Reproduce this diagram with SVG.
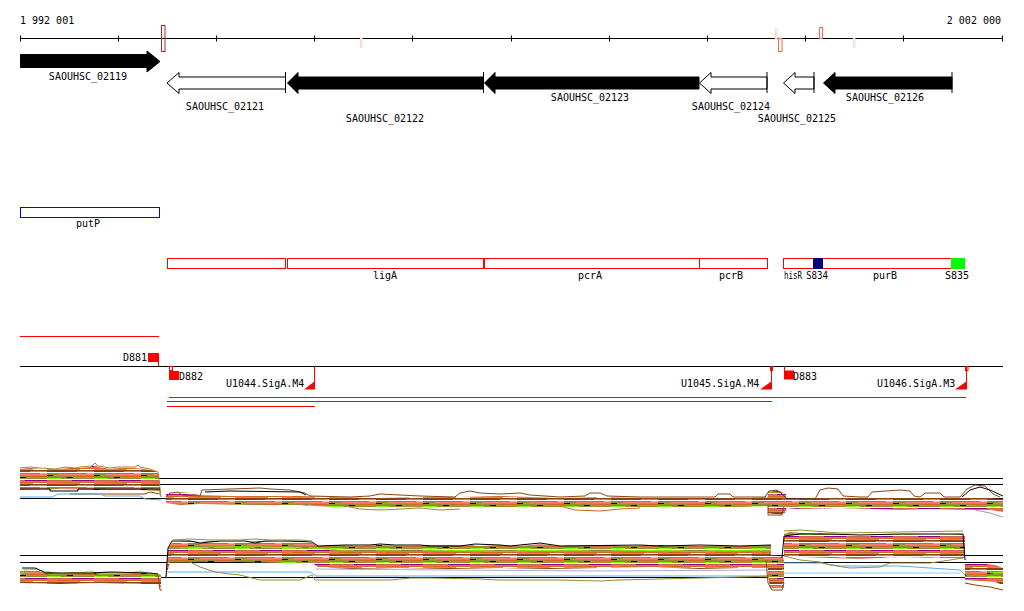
<svg xmlns="http://www.w3.org/2000/svg" width="1024" height="611" viewBox="0 0 1024 611">
<style>
.t{font-family:"DejaVu Sans Mono","Liberation Mono",monospace;font-size:10px;fill:#000}
.m{text-anchor:middle}
.e{text-anchor:end}
.ax{stroke:#000;stroke-width:1;fill:none}
.rb{fill:none;stroke:#f00;stroke-width:1}
.rf{fill:#f00}
.gb{fill:#000;stroke:#000;stroke-width:1}
.gw{fill:#fff;stroke:#000;stroke-width:1}
.ln{fill:none;stroke-width:1}
.band{fill:url(#ex)}
</style>
<defs>
<pattern id="ex" patternUnits="userSpaceOnUse" width="47" height="14">
<rect x="0" y="0" width="30" height="1" fill="#9a8b35"/><rect x="30" y="0" width="17" height="1" fill="#d2691e"/>
<rect x="0" y="1" width="20" height="1" fill="#d2691e"/><rect x="20" y="1" width="6" height="1" fill="#000"/><rect x="26" y="1" width="21" height="1" fill="#cd853f"/>
<rect x="0" y="2" width="14" height="1" fill="#7cfc00"/><rect x="14" y="2" width="33" height="1" fill="#9a8b35"/>
<rect x="0" y="3" width="47" height="1" fill="#fff"/>
<rect x="0" y="4" width="25" height="1" fill="#cd5c5c"/><rect x="25" y="4" width="22" height="1" fill="#8b008b"/>
<rect x="0" y="5" width="47" height="1" fill="#cd853f"/>
<rect x="0" y="6" width="10" height="1" fill="#ff6347"/><rect x="10" y="6" width="37" height="1" fill="#d2691e"/>
<rect x="0" y="7" width="33" height="1" fill="#bc8f8f"/><rect x="33" y="7" width="14" height="1" fill="#fff"/>
<rect x="0" y="8" width="47" height="1" fill="#8b4513"/>
<rect x="0" y="9" width="18" height="1" fill="#a0148c"/><rect x="18" y="9" width="12" height="1" fill="#dc143c"/><rect x="30" y="9" width="17" height="1" fill="#cd853f"/>
<rect x="0" y="10" width="47" height="1" fill="#fff"/>
<rect x="0" y="11" width="40" height="1" fill="#d2691e"/><rect x="40" y="11" width="7" height="1" fill="#87cefa"/>
<rect x="0" y="12" width="12" height="1" fill="#9a8b35"/><rect x="12" y="12" width="35" height="1" fill="#fa8072"/>
<rect x="0" y="13" width="6" height="1" fill="#000080"/><rect x="6" y="13" width="41" height="1" fill="#cd853f"/>
</pattern>
</defs>
<rect width="1024" height="611" fill="#fff"/>

<g id="axis">
<text class="t" x="20" y="24">1 992 001</text>
<text class="t e" x="1001" y="24">2 002 000</text>
<line class="ax" x1="20" y1="38.5" x2="1003" y2="38.5"/>
<path class="ax" d="M20.5 35.5V41.5M118.5 35.5V41.5M216.5 35.5V41.5M314.5 35.5V41.5M412.5 35.5V41.5M511.5 35.5V41.5M609.5 35.5V41.5M707.5 35.5V41.5M805.5 35.5V41.5M903.5 35.5V41.5M1002.5 35.5V41.5"/>
<rect x="161.5" y="25.5" width="3.5" height="26" fill="none" stroke="#a52a2a"/>
<rect x="360.5" y="38.5" width="1.5" height="9" fill="none" stroke="#fcd8c8"/>
<rect x="775.5" y="28.5" width="1.5" height="10" fill="none" stroke="#fcd8c8"/>
<rect x="778.5" y="38.5" width="3.5" height="13" fill="none" stroke="#f4694c"/>
<rect x="819.5" y="27.5" width="3" height="11" fill="none" stroke="#f4694c"/>
<rect x="853.5" y="38.5" width="1.5" height="9" fill="none" stroke="#fcd8c8"/>
</g>

<g id="gene-02119"><polygon class="gb" points="20.5,54.5 147,54.5 147,51 160,61.5 147,72 147,67.5 20.5,67.5"/><text class="t m" x="88" y="80">SAOUHSC_02119</text></g>
<g id="gene-02121"><polygon class="gw" points="167,83 179,72.5 179,77 285.5,77 285.5,89 179,89 179,93.5"/><line class="ax" x1="285.5" y1="72" x2="285.5" y2="93"/><text class="t m" x="225" y="110">SAOUHSC_02121</text></g>
<g id="gene-02122"><polygon class="gb" points="287.5,83 298,72.5 298,77 483,77 483,89 298,89 298,93.5"/><line class="ax" x1="483.5" y1="72" x2="483.5" y2="93"/><text class="t m" x="385" y="122">SAOUHSC_02122</text></g>
<g id="gene-02123"><polygon class="gb" points="484.5,83 495,72.5 495,77 699,77 699,89 495,89 495,93.5"/><text class="t m" x="590" y="101">SAOUHSC_02123</text></g>
<g id="gene-02124"><polygon class="gw" points="699.5,83 711,72.5 711,77 767,77 767,89 711,89 711,93.5"/><line class="ax" x1="767" y1="72" x2="767" y2="93"/><text class="t m" x="731" y="110">SAOUHSC_02124</text></g>
<g id="gene-02125"><polygon class="gw" points="783.5,83 795,72.5 795,77 814,77 814,89 795,89 795,93.5"/><line class="ax" x1="814" y1="72" x2="814" y2="93"/><text class="t m" x="797" y="122">SAOUHSC_02125</text></g>
<g id="gene-02126"><polygon class="gb" points="823.5,83 835,72.5 835,77 952,77 952,89 835,89 835,93.5"/><line class="ax" x1="952" y1="72" x2="952" y2="93"/><text class="t m" x="885" y="101">SAOUHSC_02126</text></g>

<g id="putP"><rect x="20.5" y="207.5" width="139" height="10" fill="none" stroke="#00f"/><text class="t m" x="88" y="227">putP</text></g>

<g id="operons">
<rect class="rb" x="167.5" y="258.5" width="118" height="10"/>
<rect class="rb" x="287.5" y="258.5" width="196" height="10"/>
<rect class="rb" x="484.5" y="258.5" width="215" height="10"/>
<rect class="rb" x="699.5" y="258.5" width="68" height="10"/>
<rect class="rb" x="783.5" y="258.5" width="168" height="10"/>
<rect x="813" y="258" width="10" height="11" fill="#000080"/>
<rect x="951" y="258" width="14" height="11" fill="#00ff00"/>
<text class="t m" x="385" y="279">ligA</text>
<text class="t m" x="590" y="279">pcrA</text>
<text class="t m" x="731" y="279">pcrB</text>
<text class="t" x="784" y="279" textLength="18" lengthAdjust="spacingAndGlyphs">hisR</text>
<text class="t" x="806" y="279" textLength="22" lengthAdjust="spacingAndGlyphs">S834</text>
<text class="t m" x="885" y="279">purB</text>
<text class="t m" x="957" y="279">S835</text>
</g>

<g id="sites">
<line x1="20" y1="336.5" x2="159" y2="336.5" stroke="#f00"/>
<text class="t" x="123" y="361">D881</text>
<rect class="rf" x="148" y="353" width="11" height="9"/>
<line x1="158.5" y1="353" x2="158.5" y2="366" stroke="#f00"/>
<line class="ax" x1="20" y1="366.5" x2="1003" y2="366.5"/>
<rect class="rb" x="169.5" y="366.5" width="3" height="4"/>
<rect class="rf" x="169" y="371" width="10" height="9"/>
<text class="t" x="179" y="380">D882</text>
<text class="t" x="226" y="387">U1044.SigA.M4</text>
<line x1="314.5" y1="366" x2="314.5" y2="389" stroke="#f00"/>
<polygon class="rf" points="304,389.5 315,389.5 315,381"/>
<text class="t" x="681" y="387">U1045.SigA.M4</text>
<rect class="rf" x="770" y="366" width="3" height="5"/>
<line x1="771.5" y1="366" x2="771.5" y2="389" stroke="#f00"/>
<polygon class="rf" points="760,389.5 772,389.5 772,381"/>
<line x1="784.5" y1="366" x2="784.5" y2="379" stroke="#f00"/>
<rect class="rf" x="784" y="370.5" width="10" height="9"/>
<text class="t" x="793" y="380">D883</text>
<text class="t" x="877" y="387">U1046.SigA.M3</text>
<rect class="rb" x="965.5" y="366.5" width="2.5" height="4"/>
<line x1="966.5" y1="366" x2="966.5" y2="389" stroke="#f00"/>
<polygon class="rf" points="955,389.5 967,389.5 967,381"/>
<line x1="169" y1="397.5" x2="966" y2="397.5" stroke="#f00"/>
<line x1="167" y1="401.5" x2="772" y2="401.5" stroke="#f00"/>
<line x1="167" y1="406.5" x2="315" y2="406.5" stroke="#f00"/>
</g>

<g id="plot-upper">
<path class="ax" d="M20 478.5H1003M20 484.5H1003M20 498.5H1003"/>
<polygon class="band" points="20,469 30,468 40,469 60,469 70,468 80,468 90,467 95,465 98,467 110,469 120,468 135,468 145,469 155,471 159,474 161,497 159,491 140,490 100,490 60,489 20,490"/>
<polyline class="ln" stroke="#9a8b35" points="20,468 30,467 40,468 55,469 65,467 75,468 80,467 92,466 95,463 98,466 110,468 118,467 135,467 138,465 140,467 150,469 158,472 161,497"/>
<polyline class="ln" stroke="#000" points="20,489 50,489 50,491 78,491 78,489 120,489 160,489"/>
<polyline class="ln" stroke="#8b4513" points="70,494 145,494 150,492 160,494"/>
<polyline class="ln" stroke="#5dade2" points="20,497 52,497 58,494 100,494 105,496 140,496 145,499 161,500"/>
<polygon class="band" points="166,493 172,494 180,492 190,493 200,495 230,496 300,496 330,497 380,498 420,497 460,497 500,496 560,498 600,497 650,498 700,498 740,498 771,497 771,506 740,507 700,508 650,507 600,508 560,507 500,508 450,507 400,507 350,508 300,505 250,505 200,504 180,505 166,503"/>
<polyline class="ln" stroke="#8b4513" points="166,497 170,493 178,492 182,495 200,496 202,490 230,489 260,488 270,489 290,490 305,493 310,496 350,497 370,496 380,494 400,495 420,496 455,497 460,493 470,491 480,493 500,494 520,493 530,495 560,497 585,496 590,493 600,493 607,496 640,497 700,497 715,497 718,494 730,494 733,497 765,497"/>
<polyline class="ln" stroke="#000" points="205,492 230,491 300,492 306,495"/>
<polyline class="ln" stroke="#9a8b35" points="340,505 360,509 380,510 400,509 420,508 440,510 460,509"/>
<polyline class="ln" stroke="#d2691e" points="560,506 575,510 600,511 620,509 640,508"/>
<polygon class="band" points="768,492 780,491 786,494 786,512 780,515 768,513"/>
<polyline class="ln" stroke="#5a3a2a" points="765,497 769,491 777,490 781,493 786,498"/>
<polyline class="ln" stroke="#8b4513" points="768,505 768,515 782,515 784,507"/>
<polygon class="band" points="784,499 820,498 843,498 870,498 913,498 930,498 963,498 990,498 1003,499 1003,512 990,510 960,510 930,509 900,510 870,509 840,508 800,509 784,508"/>
<polyline class="ln" stroke="#8b4513" points="784,499 815,499 820,490 828,488 838,489 843,496 860,497 868,497 872,492 900,490 910,491 914,496 920,497 925,493 940,493 944,497 960,497 967,489 975,485 985,486 993,494 1000,497"/>
<polyline class="ln" stroke="#000" points="962,497 970,490 980,487 990,490 1003,496"/>
<polyline class="ln" stroke="#bc8f8f" points="975,510 990,513 1003,517"/>
</g>

<g id="plot-lower">
<path class="ax" d="M20 555.5H1003M20 562.5H1003M20 577.5H1003"/>
<polygon class="band" points="20,570 35,569 45,571 60,573 75,572 90,573 110,572 130,573 150,573 158,574 161,575 161,588 158,585 140,584 100,583 60,584 20,583"/>
<polyline class="ln" stroke="#7cfc00" points="20,575 25,570 35,569 42,571 50,574 80,573 90,571 100,574 130,573 140,571 150,574 158,574"/>
<polyline class="ln" stroke="#000" points="22,568 35,568 42,571 45,573 90,573 110,572 150,573 158,574"/>
<polyline class="ln" stroke="#8b4513" points="158,575 160,590 162,590"/>
<polygon class="band" points="166,577 168,548 172,543 185,541 200,542 215,541 230,543 245,542 260,541 280,542 300,541 312,543 318,546 340,545 360,546 380,545 410,546 430,545 460,545 480,546 500,545 520,546 540,544 560,546 600,545 630,546 650,545 700,546 740,546 771,545 771,568 740,568 700,569 650,567 600,568 550,569 500,568 450,569 400,568 350,569 318,567 312,563 280,563 240,562 200,562 170,562"/>
<polyline class="ln" stroke="#000" points="166,577 168,548 172,541 190,541 200,543 220,541 245,541 255,543 265,541 290,541 312,542 318,546 345,545 370,545 380,544 395,545 420,545 430,546 460,546 475,544 500,545 510,546 540,543 560,546 640,545 660,546 700,545 740,546 771,545"/>
<polyline class="ln" stroke="#9a8b35" points="172,540 190,539 210,540 240,540 255,539 270,540 300,540 312,541"/>
<polyline class="ln" stroke="#7cfc00" points="180,548 220,547 260,547 310,548 340,550 420,550 500,551 600,550 700,551 771,550"/>
<polyline class="ln" stroke="#5dade2" points="168,572 310,572 316,576 771,576"/>
<polyline class="ln" stroke="#a9a9e0" points="316,569 450,570 600,571 771,570"/>
<polyline class="ln" stroke="#9a8b35" points="168,562 190,562 200,567 215,572 230,574 240,575 260,580 300,580 312,575 315,580 390,580 410,578 430,578 480,579 500,580 520,580 560,580 600,581 620,580 660,579 700,578 740,577 771,576"/>
<polygon class="band" points="768,555 782,556 784,560 784,588 770,588 768,575"/>
<polyline class="ln" stroke="#8b4513" points="766,560 768,583 772,590 782,590 784,583"/>
<polygon class="band" points="784,534 790,532 800,533 830,534 860,535 900,534 930,535 963,534 965,536 965,558 940,558 900,557 860,559 830,558 800,557 784,556"/>
<polyline class="ln" stroke="#000" points="782,558 784,536 800,534 830,534 860,535 900,534 963,534 965,560"/>
<polyline class="ln" stroke="#9a8b35" points="784,531 800,530 840,533 900,532 963,531"/>
<polyline class="ln" stroke="#5dade2" points="784,563 820,563 840,566 880,566 900,566 960,570 965,575"/>
<polyline class="ln" stroke="#87cefa" points="784,573 960,573"/>
<polyline class="ln" stroke="#9a8b35" points="784,556 800,560 820,562 830,565 850,568 880,567 890,563 930,563 950,560 963,558"/>
<polygon class="band" points="965,563 980,563 995,565 1003,568 1003,585 995,582 980,581 965,580"/>
<polyline class="ln" stroke="#8b4513" points="965,583 975,585 990,587 1003,590"/>
<polyline class="ln" stroke="#7cfc00" points="990,573 1003,572"/>
</g>
</svg>
